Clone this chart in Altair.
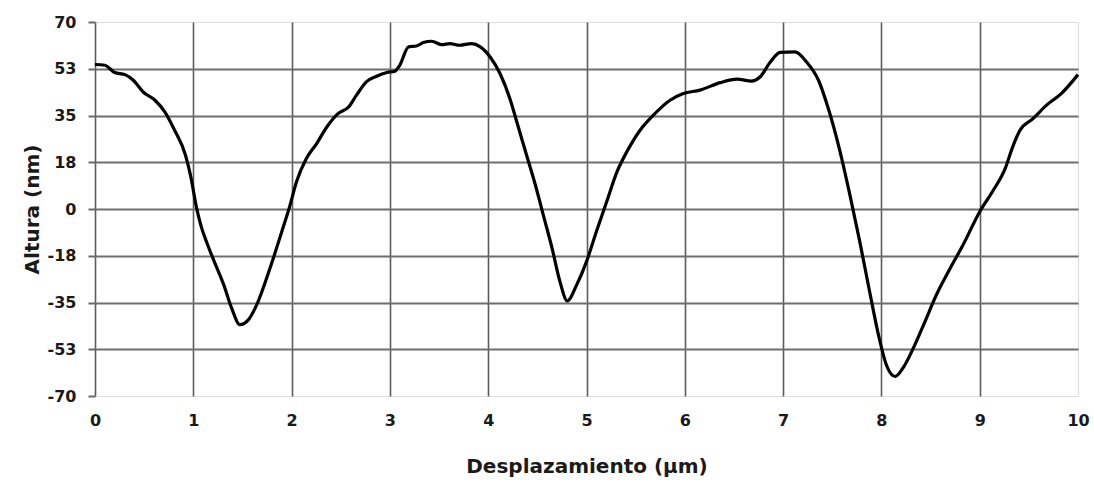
import altair as alt
import pandas as pd

# Surface profile: displacement (µm) vs. height (nm)
desplazamiento = [
    0.00, 0.10, 0.20, 0.305, 0.39, 0.49, 0.61, 0.71, 0.81, 0.92, 0.975, 1.03, 1.08, 1.14, 1.20, 1.31,
    1.39, 1.475, 1.56, 1.645, 1.78, 1.90, 1.98, 2.05, 2.15, 2.255, 2.36, 2.475, 2.58, 2.66,
    2.76, 2.865, 2.97, 3.05, 3.10, 3.19, 3.27, 3.34, 3.425, 3.53, 3.61, 3.71, 3.83, 3.92,
    4.02, 4.12, 4.22, 4.31, 4.39, 4.48, 4.56, 4.65, 4.73, 4.805, 4.90, 5.00, 5.10, 5.205,
    5.31, 5.41, 5.545, 5.68, 5.85, 5.985, 6.155, 6.36, 6.53, 6.68, 6.765, 6.87, 6.97, 7.12,
    7.24, 7.36, 7.46, 7.58, 7.68, 7.78, 7.88, 7.97, 8.05, 8.14, 8.22, 8.325, 8.43, 8.56,
    8.70, 8.83, 9.00, 9.14, 9.26, 9.33, 9.41, 9.545, 9.68, 9.83, 10.0,
]
altura = [
    54.1, 53.8, 51.1, 50.3, 48.2, 43.8, 40.7, 36.4, 29.5, 20.2, 12.0, 1.0, -6.5, -12.8, -18.5, -28.4,
    -37.1, -43.3, -41.5, -35.9, -22.2, -8.5, 0.9, 10.2, 18.9, 24.5, 30.8, 35.8, 38.2, 42.6,
    47.6, 49.7, 51.1, 51.6, 53.8, 60.7, 61.0, 62.3, 62.8, 61.5, 61.9, 61.3, 61.9, 60.7,
    56.9, 50.7, 41.4, 30.2, 20.2, 9.0, -2.2, -14.7, -27.2, -34.4, -28.4, -19.7, -8.5, 2.7,
    13.9, 21.4, 29.5, 35.1, 40.7, 43.2, 44.5, 47.3, 48.6, 47.9, 49.4, 55.0, 58.6, 58.8,
    55.0, 48.2, 37.6, 21.4, 5.2, -12.2, -30.9, -47.1, -58.3, -62.7, -59.5, -52.1, -43.3, -32.1,
    -22.2, -13.5, -1.0, 7.1, 15.2, 22.7, 29.5, 33.9, 38.9, 43.2, 50.3,
]

x_ticks = [0, 1, 2, 3, 4, 5, 6, 7, 8, 9, 10]
y_ticks = [-70, -52.5, -35, -17.5, 0, 17.5, 35, 52.5, 70]

df = pd.DataFrame({"x": desplazamiento, "y": altura})

FONT = "DejaVu Sans"
TEXT = "#1a1a1a"

chart = (
    alt.Chart(df)
    .mark_line(color="black", strokeWidth=3.2, interpolate="monotone")
    .encode(
        x=alt.X(
            "x:Q",
            scale=alt.Scale(domain=[0, 10], nice=False, zero=False),
            axis=alt.Axis(
                values=x_ticks,
                title="Desplazamiento (µm)",
                domain=False,
                ticks=False,
                grid=True,
                gridColor="#5c5c5c",
                gridWidth=1.6,
                gridOpacity={"condition": {"test": "datum.value >= 10", "value": 0}, "value": 1},
                labelFlush=False,
                labelFont=FONT,
                labelFontSize=16,
                labelFontWeight="bold",
                labelColor=TEXT,
                labelPadding=16,
                titleFont=FONT,
                titleFontSize=20,
                titleFontWeight="bold",
                titleColor=TEXT,
                titleY=70,
                titleBaseline="middle",
            ),
        ),
        y=alt.Y(
            "y:Q",
            scale=alt.Scale(domain=[-70, 70], nice=False, zero=False),
            axis=alt.Axis(
                values=y_ticks,
                title="Altura (nm)",
                labelExpr="datum.value < 0 ? '-' + format(round(-datum.value), 'd') : format(round(datum.value), 'd')",
                domain=False,
                ticks=True,
                tickSize=7,
                tickColor="#6a6a6a",
                tickWidth=2,
                grid=True,
                gridColor="#6e6e6e",
                gridWidth=2.2,
                gridOpacity={"condition": {"test": "abs(datum.value) >= 70", "value": 0}, "value": 1},
                labelFlush=False,
                labelFont=FONT,
                labelFontSize=16,
                labelFontWeight="bold",
                labelColor=TEXT,
                labelPadding=12,
                titleFont=FONT,
                titleFontSize=20,
                titleFontWeight="bold",
                titleColor=TEXT,
                titleAngle=-90,
                titleX=-63,
                titleY=187,
                titleAlign="center",
                titleBaseline="middle",
            ),
        ),
    )
    .properties(
        width=983,
        height=374,
        autosize=alt.AutoSizeParams(type="none"),
        padding={"left": 95, "top": 22, "right": 16, "bottom": 86},
    )
    .configure_view(stroke=None)
    .configure(background="white")
)

chart.save("out.html", embed_options={"renderer": "svg", "actions": False})
